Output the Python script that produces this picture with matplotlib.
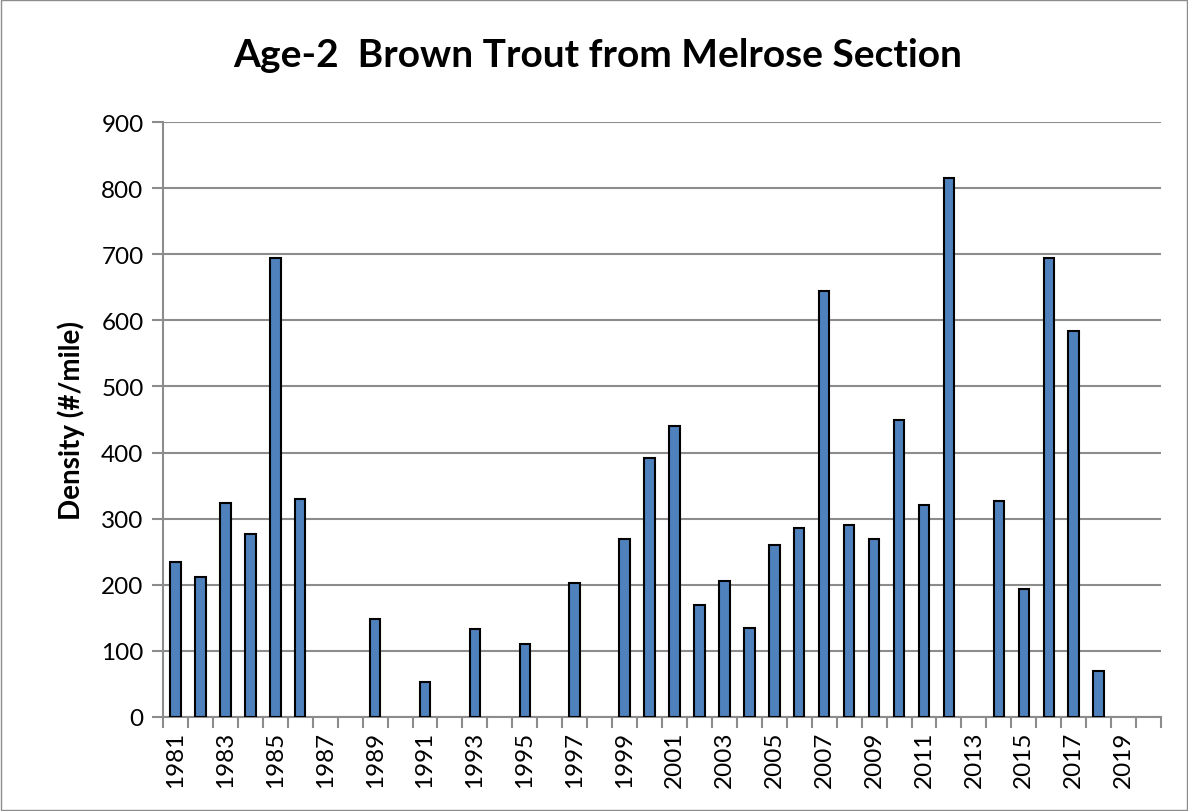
import numpy as np
import matplotlib
matplotlib.use('Agg')
import matplotlib.pyplot as plt
from matplotlib.patches import Rectangle

plt.rcParams['font.family'] = ['Lato', 'DejaVu Sans']

# Densidad anual de truchas de 2 años (0 = sin muestreo)
years = list(range(1981, 2021))
density = [235, 212, 323, 277, 695, 330, 0, 0, 148, 0,
           52, 0, 133, 0, 110, 0, 203, 0, 269, 391,
           440, 169, 205, 135, 260, 285, 645, 290, 269, 449,
           321, 816, 0, 327, 194, 694, 584, 69, 0, 0]
yticks = list(range(0, 1000, 100))

fig = plt.figure(figsize=(11.88, 8.12), dpi=100)
ax = fig.add_axes([0.1372, 0.1161, 0.8401, 0.7321])

x = np.arange(len(years))
d = np.array(density)
hay = d > 0  # solo años con dato
ax.bar(x[hay], d[hay], width=0.42, color='#4F81BD', edgecolor='black', linewidth=1.5, zorder=3)

ax.set_xlim(-0.5, len(years) - 0.5)
ax.set_ylim(0, 900)
ax.set_yticks(yticks)
ax.yaxis.grid(True, color='#8C8C8C', linewidth=1.5, zorder=0)

# etiquetas cada dos años, marcas entre categorías
ax.set_xticks(x[::2])
ax.set_xticklabels([str(y) for y in years[::2]], rotation=90)
ax.set_xticks(np.arange(-0.5, len(years)), minor=True)
ax.tick_params(axis='x', which='major', length=0, pad=10, labelsize=17.5)
ax.tick_params(axis='x', which='minor', length=8, width=1.5, color='#8C8C8C')
ax.tick_params(axis='y', length=8, width=1.5, color='#8C8C8C', labelsize=17.5, pad=6)

for s in ['top', 'right']:
    ax.spines[s].set_visible(False)
for s in ['left', 'bottom']:
    ax.spines[s].set_color('#8C8C8C')
    ax.spines[s].set_linewidth(1.5)

ax.set_ylabel('Density (#/mile)', fontsize=20, fontweight='bold', labelpad=12)
fig.text(0.503, 0.932, 'Age-2  Brown Trout from Melrose Section', ha='center', va='center',
         fontsize=28, fontweight='bold')

fig.patches.append(Rectangle((0.001, 0.001), 0.998, 0.998, transform=fig.transFigure,
                             fill=False, edgecolor='#8C8C8C', linewidth=1))

fig.savefig('out.png', dpi=100)
